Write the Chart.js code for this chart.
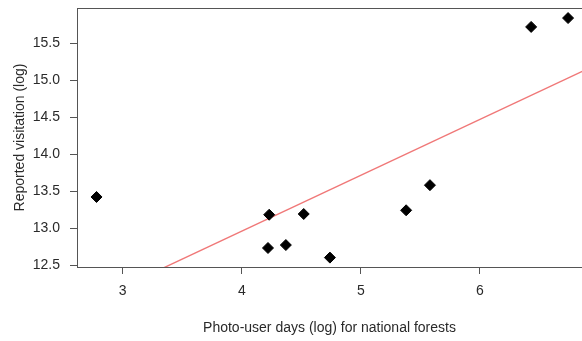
<!DOCTYPE html>
<html>
<head>
<meta charset="utf-8">
<script src="https://cdn.jsdelivr.net/npm/chart.js@4/dist/chart.umd.min.js"></script>
<style>
  html, body { margin: 0; padding: 0; background: #fff; }
  #wrap { width: 582px; height: 341px; position: relative; }
</style>
</head>
<body>
<div id="wrap"><canvas id="myChart"></canvas></div>
<script>
// data
var photoDays = [2.78, 4.23, 4.52, 4.22, 4.37, 4.74, 5.38, 5.58, 6.43, 6.74];
var visitation = [13.42, 13.18, 13.19, 12.73, 12.77, 12.60, 13.24, 13.58, 15.72, 15.84];
var fitX = [2.6, 6.9];
var fitY = [11.90, 15.15];

var xTitle = 'Photo-user days (log) for national forests';
var yTitle = 'Reported visitation (log)';

var axisGray = '#555555';
var textCol = '#2a2a2a';
var font = { family: "'Liberation Sans', Arial, sans-serif", size: 14 };

// top line of the box
var boxTop = {
    id: 'boxTop',
    afterDraw: function(chart) {
        var a = chart.chartArea, c = chart.ctx;
        c.save();
        c.strokeStyle = axisGray;
        c.lineWidth = 1;
        c.beginPath();
        c.moveTo(a.left, a.top + 0.5);
        c.lineTo(a.right, a.top + 0.5);
        c.stroke();
        c.restore();
    }
};

var ctx = document.getElementById('myChart').getContext('2d');
var chart = new Chart(ctx, {
    type: 'scatter',
    data: {
        datasets: [{
            label: 'forests',
            data: photoDays.map(function(x, i) { return { x: x, y: visitation[i] }; }),
            pointStyle: 'rectRot',
            pointRadius: 5.5,
            backgroundColor: '#000',
            borderColor: '#000',
            borderWidth: 1,
            order: 1
        }, {
            label: 'fit',
            type: 'line',
            data: fitX.map(function(x, i) { return { x: x, y: fitY[i] }; }),
            borderColor: '#f07878',
            borderWidth: 1.4,
            pointRadius: 0,
            fill: false,
            order: 2
        }]
    },
    options: {
        responsive: true,
        maintainAspectRatio: false,
        animation: false,
        layout: { autoPadding: false, padding: { top: 8, right: 0, left: 0, bottom: 0 } },
        plugins: { legend: { display: false }, tooltip: { enabled: false } },
        scales: {
            x: {
                type: 'linear',
                min: 2.616,
                max: 6.857,
                afterFit: function(s) { s.height = 74; s.paddingLeft = 0; s.paddingRight = 0; },
                border: { display: true, color: axisGray, width: 1 },
                grid: { drawOnChartArea: false, drawTicks: true, tickLength: 7, color: axisGray },
                ticks: { stepSize: 1, includeBounds: false, color: textCol, font: font, padding: 9 },
                title: { display: true, text: xTitle, color: textCol, font: font, padding: { top: 10 } }
            },
            y: {
                min: 12.473,
                max: 15.976,
                afterFit: function(s) { s.width = 77; s.paddingTop = 0; s.paddingBottom = 0; },
                border: { display: true, color: axisGray, width: 1 },
                grid: { drawOnChartArea: false, drawTicks: true, tickLength: 7, color: axisGray },
                ticks: {
                    stepSize: 0.5, includeBounds: false, color: textCol, font: font, padding: 10,
                    callback: function(v) { return v.toFixed(1); }
                },
                title: { display: true, text: yTitle, color: textCol, font: font, padding: { top: 12, bottom: 4 } }
            }
        }
    },
    plugins: [boxTop]
});
</script>
</body>
</html>
